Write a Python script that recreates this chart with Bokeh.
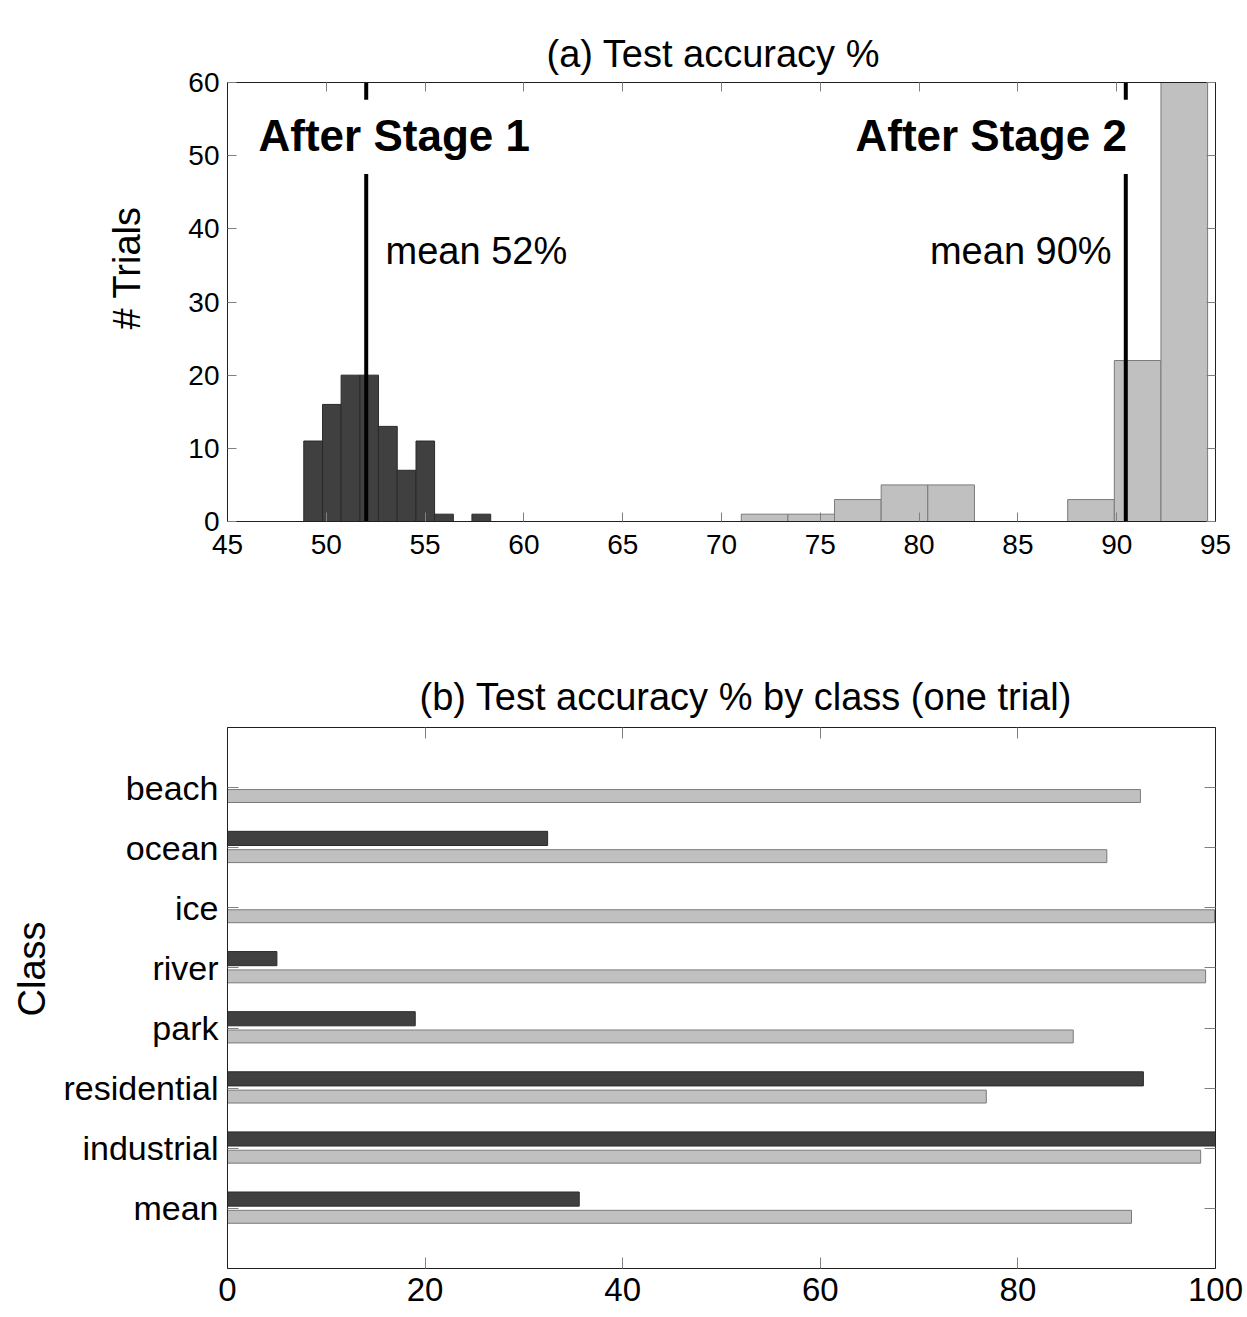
from bokeh.plotting import figure
from bokeh.models import Range1d, LinearAxis, FixedTicker, ColumnDataSource, Title
from bokeh.transform import dodge
from bokeh.layouts import column
from bokeh.core.properties import value
from bokeh.embed import file_html
from bokeh.resources import INLINE

FONT = "Liberation Sans"

# ---------------- data: (a) histogram ----------------
stage1_edges = [48.86, 49.81, 50.75, 51.70, 52.64, 53.59, 54.54, 55.48, 56.43, 57.37, 58.32]
stage1_counts = [11, 16, 20, 20, 13, 7, 11, 1, 0, 1]
stage2_edges = [71.00, 73.36, 75.72, 78.08, 80.44, 82.80, 85.16, 87.52, 89.88, 92.24, 94.60]
stage2_counts = [1, 1, 3, 5, 5, 0, 0, 3, 22, 60]
mean_values = [52.02, 90.46]
stage_labels = ["After Stage 1", "After Stage 2"]
mean_labels = ["mean 52%", "mean 90%"]
x_ticks_a = [45, 50, 55, 60, 65, 70, 75, 80, 85, 90, 95]
y_ticks_a = [0, 10, 20, 30, 40, 50, 60]

# ---------------- data: (b) per class ----------------
classes = ["beach", "ocean", "ice", "river", "park", "residential", "industrial", "mean"]
acc_stage1 = [0.0, 32.4, 0.0, 5.0, 19.0, 92.7, 100.0, 35.6]
acc_stage2 = [92.4, 89.0, 99.9, 99.0, 85.6, 76.8, 98.5, 91.5]
x_ticks_b = [0, 20, 40, 60, 80, 100]

DARK = "#404040"
LIGHT = "#c0c0c0"


def style_axis(ax, size, tick_in=9):
    ax.major_tick_in = tick_in
    ax.major_tick_out = 0
    ax.minor_tick_in = 0
    ax.minor_tick_out = 0
    ax.major_tick_line_color = "#808080"
    ax.axis_line_color = "#202020"
    ax.major_label_text_font = FONT
    ax.major_label_text_font_size = size
    ax.major_label_text_color = "black"


def style_title(t, size, align="left"):
    t.text_font = FONT
    t.text_font_size = size
    t.text_font_style = "normal"
    t.text_color = "black"
    t.align = align


def spacer_axis(gap):
    # invisible axis above the frame that only reserves vertical room below the title
    ax = LinearAxis(ticker=FixedTicker(ticks=[]), major_tick_in=0, major_tick_out=gap,
                    minor_tick_in=0, minor_tick_out=0, major_label_standoff=0)
    ax.axis_line_color = None
    ax.major_tick_line_color = None
    ax.minor_tick_line_color = None
    return ax


# ================= (a) =================
p1 = figure(frame_width=988, frame_height=439,
            x_range=Range1d(45, 95), y_range=Range1d(0, 60),
            output_backend="svg", toolbar_location=None,
            min_border_left=227, min_border_right=28, min_border_top=82, min_border_bottom=60,
            title="(a) Test accuracy %")
style_title(p1.title, "38px")
p1.title.offset = 319
p1.title.standoff = 16
p1.xgrid.visible = False
p1.ygrid.visible = False
p1.outline_line_color = "#202020"

p1.xaxis.ticker = FixedTicker(ticks=x_ticks_a)
p1.yaxis.ticker = FixedTicker(ticks=y_ticks_a)
style_axis(p1.xaxis[0], "28px")
style_axis(p1.yaxis[0], "28px")
p1.xaxis.major_label_standoff = 13
p1.yaxis.major_label_standoff = 8

ylab_a = Title(text="# Trials", offset=192, standoff=75)
style_title(ylab_a, "38px")
p1.add_layout(ylab_a, "left")

top_a = LinearAxis(ticker=FixedTicker(ticks=x_ticks_a), major_label_standoff=0,
                   major_label_overrides={t: "" for t in x_ticks_a})
style_axis(top_a, "10px")
p1.add_layout(top_a, "above")
p1.add_layout(spacer_axis(20), "above")
right_a = LinearAxis(ticker=FixedTicker(ticks=y_ticks_a), major_label_standoff=0,
                     major_label_overrides={t: "" for t in y_ticks_a})
style_axis(right_a, "10px")
p1.add_layout(right_a, "right")

src1 = ColumnDataSource(dict(left=stage1_edges[:-1], right=stage1_edges[1:], top=stage1_counts))
src2 = ColumnDataSource(dict(left=stage2_edges[:-1], right=stage2_edges[1:], top=stage2_counts))
p1.quad(left="left", right="right", bottom=0, top="top", source=src1,
        fill_color=DARK, line_color="#2a2a2a", line_width=1)
p1.quad(left="left", right="right", bottom=0, top="top", source=src2,
        fill_color=LIGHT, line_color="#7a7a7a", line_width=1)

# mean lines, interrupted behind the "After Stage" captions
p1.segment(x0=mean_values, y0=[0, 0], x1=mean_values, y1=[47.5, 47.5],
           line_color="black", line_width=4)
p1.segment(x0=mean_values, y0=[57.65, 57.65], x1=mean_values, y1=[60, 60],
           line_color="black", line_width=4)

p1.text(x=[46.57, 76.78], y=[52.8, 52.8], text=stage_labels,
        text_font=value(FONT), text_font_style="bold", text_font_size="44px",
        text_color="black", text_baseline="alphabetic", text_align="left")
p1.text(x=[53.0, 80.55], y=[37.0, 37.0], text=mean_labels,
        text_font=value(FONT), text_font_size="38px",
        text_color="black", text_baseline="alphabetic", text_align="left")

# ================= (b) =================
n_cls = len(classes)
class_pos = [n_cls - 1 - i + 0.5 for i in range(n_cls)]   # beach on top
p2 = figure(frame_width=988, frame_height=541,
            x_range=Range1d(0, 100), y_range=Range1d(-0.5, n_cls + 0.5),
            output_backend="svg", toolbar_location=None,
            min_border_left=227, min_border_right=28, min_border_top=146, min_border_bottom=46,
            title="(b) Test accuracy % by class (one trial)")
style_title(p2.title, "38px")
p2.title.offset = 192
p2.title.standoff = 20
p2.xgrid.visible = False
p2.ygrid.visible = False
p2.outline_line_color = "#202020"

p2.xaxis.ticker = FixedTicker(ticks=x_ticks_b)
p2.yaxis.ticker = FixedTicker(ticks=class_pos)
p2.yaxis.major_label_overrides = {pos: c for pos, c in zip(class_pos, classes)}
style_axis(p2.xaxis[0], "33px", tick_in=11)
style_axis(p2.yaxis[0], "34px", tick_in=11)
p2.xaxis.major_label_standoff = 9
p2.yaxis.major_label_standoff = 9

ylab_b = Title(text="Class", offset=252, standoff=15)
style_title(ylab_b, "38px")
p2.add_layout(ylab_b, "left")

top_b = LinearAxis(ticker=FixedTicker(ticks=x_ticks_b), major_label_standoff=0,
                   major_label_overrides={t: "" for t in x_ticks_b})
style_axis(top_b, "10px", tick_in=11)
p2.add_layout(top_b, "above")
p2.add_layout(spacer_axis(29), "above")
right_b = LinearAxis(ticker=FixedTicker(ticks=class_pos), major_label_standoff=0,
                     major_label_overrides={t: "" for t in class_pos})
style_axis(right_b, "10px", tick_in=11)
p2.add_layout(right_b, "right")

src_b = ColumnDataSource(dict(y=class_pos, s1=acc_stage1, s2=acc_stage2))
p2.hbar(y=dodge("y", 0.155), left=0, right="s1", height=0.235,
        source=src_b, fill_color=DARK, line_color="#2a2a2a", line_width=1)
p2.hbar(y=dodge("y", -0.14), left=0, right="s2", height=0.215,
        source=src_b, fill_color=LIGHT, line_color="#7a7a7a", line_width=1)

layout = column(p1, p2, spacing=0)
open("out.html", "w").write(file_html(layout, INLINE))
